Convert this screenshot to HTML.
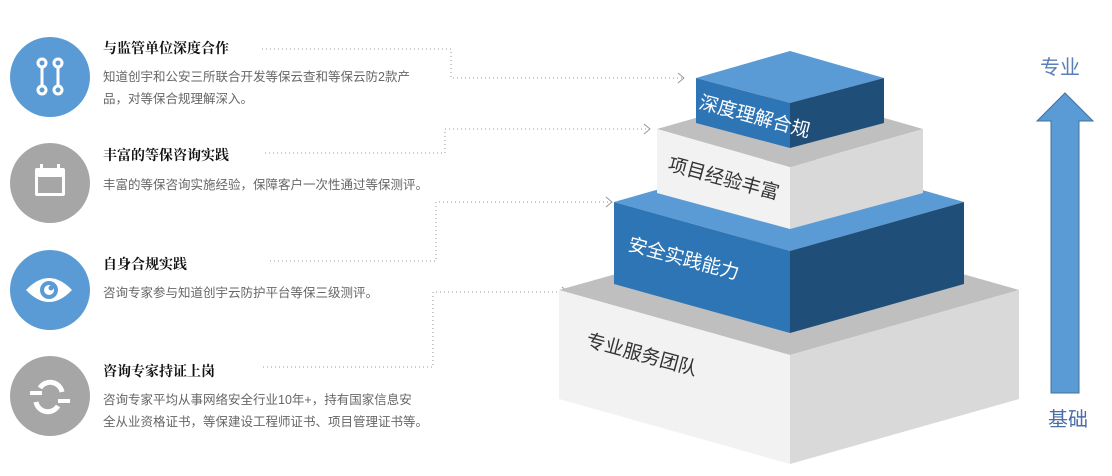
<!DOCTYPE html>
<html><head><meta charset="utf-8"><style>
body{margin:0;width:1112px;height:476px;background:#fff;overflow:hidden;position:relative;font-family:"Liberation Sans","Noto Sans CJK SC",sans-serif}
.c{position:absolute;left:10px;width:80px;height:80px;border-radius:50%}
.t{position:absolute;left:103px;font-size:14px;font-weight:bold;color:#111;font-family:"Liberation Serif","Noto Serif CJK SC",serif}
.d{position:absolute;left:103px;font-size:12.5px;color:#666;line-height:22px;white-space:nowrap}
</style></head><body>
<div class="c" style="top:37px;background:#5b9bd5"></div>
<div class="c" style="top:143px;background:#a6a6a6"></div>
<div class="c" style="top:250px;background:#5b9bd5"></div>
<div class="c" style="top:356px;background:#a6a6a6"></div>
<svg width="1112" height="476" style="position:absolute;left:0;top:0">
<g stroke="#fff" stroke-width="3" fill="none">
<circle cx="42" cy="63" r="4"/><circle cx="42" cy="90" r="4"/><line x1="42" y1="67" x2="42" y2="86"/>
<circle cx="58" cy="63" r="4"/><circle cx="58" cy="90" r="4"/><line x1="58" y1="67" x2="58" y2="86"/>
</g>
<rect x="35" y="168" width="30" height="28" fill="#fff" rx="2"/><rect x="38" y="177" width="24" height="16" fill="#a6a6a6"/>
<rect x="40" y="164" width="3" height="7" fill="#fff"/><rect x="57" y="164" width="3" height="7" fill="#fff"/>
<path d="M26 290 Q49 266 72 290 Q49 314 26 290Z" fill="#fff"/><circle cx="49" cy="290" r="9" fill="#5b9bd5"/><circle cx="49" cy="290" r="5" fill="#fff"/><circle cx="51" cy="288" r="2.5" fill="#5b9bd5"/>
<path d="M40 388 A12 12 0 0 1 62 392" stroke="#fff" stroke-width="5" fill="none"/>
<path d="M58 406 A12 12 0 0 1 36 402" stroke="#fff" stroke-width="5" fill="none"/>
<rect x="30" y="391" width="12" height="4" fill="#fff"/><rect x="58" y="399" width="12" height="4" fill="#fff"/>
<g stroke="#999" stroke-width="1" stroke-dasharray="1 3" fill="none">
<polyline points="262,49 451,49 451,78 684,78"/>
<polyline points="265,153 445,153 445,129 648,129"/>
<polyline points="270,261 436,261 436,202 610,202"/>
<polyline points="263,367 433,367 433,292 566,292"/>
</g>
<g stroke="#999" stroke-width="1" fill="none">
<polyline points="678,73 684,78 678,83"/><polyline points="644,124 650,129 644,134"/>
<polyline points="606,197 612,202 606,207"/><polyline points="562,287 568,292 562,297"/>
</g>
<polygon points="559,290 790,225 1019,290 790,355" fill="#bfbfbf"/>
<polygon points="559,290 790,355 790,464 559,399" fill="#f2f2f2"/>
<polygon points="790,355 1019,290 1019,399 790,464" fill="#d9d9d9"/>
<polygon points="614,202 790,152 964,202 790,251" fill="#5b9bd5"/>
<polygon points="614,202 790,251 790,333 614,284" fill="#2e75b6"/>
<polygon points="790,251 964,202 964,284 790,333" fill="#1f4e79"/>
<polygon points="657,129 790,91 923,129 790,167" fill="#bfbfbf"/>
<polygon points="657,129 790,167 790,229 657,193" fill="#f2f2f2"/>
<polygon points="790,167 923,129 923,193 790,229" fill="#d9d9d9"/>
<polygon points="696,78 790,51 884,78 790,103" fill="#5b9bd5"/>
<polygon points="696,78 790,103 790,148 696,123" fill="#2e75b6"/>
<polygon points="790,103 884,78 884,123 790,148" fill="#1f4e79"/>
<g font-family="Liberation Sans,Noto Sans CJK SC,sans-serif" font-size="19">
<text transform="translate(698,108) rotate(15)" fill="#fff">深度理解合规</text>
<text transform="translate(667,170) rotate(15)" fill="#333">项目经验丰富</text>
<text transform="translate(627,250) rotate(15)" fill="#fff">安全实践能力</text>
<text transform="translate(585,346) rotate(15)" fill="#333">专业服务团队</text>
</g>
<polygon points="1065,93 1093,121 1079,121 1079,393 1051,393 1051,121 1037,121" fill="#5b9bd5" stroke="#41719c" stroke-width="1"/>
<text x="1040" y="74" font-size="20" fill="#5a7fb8" font-family="Liberation Sans,Noto Sans CJK SC,sans-serif">专业</text>
<text x="1048" y="426" font-size="20" fill="#4a6fa8" font-family="Liberation Sans,Noto Sans CJK SC,sans-serif">基础</text>
</svg>
<div class="t" style="top:38px">与监管单位深度合作</div>
<div class="d" style="top:66px">知道创宇和公安三所联合开发等保云查和等保云防2款产<br>品，对等保合规理解深入。</div>
<div class="t" style="top:145px">丰富的等保咨询实践</div>
<div class="d" style="top:174px">丰富的等保咨询实施经验，保障客户一次性通过等保测评。</div>
<div class="t" style="top:254px">自身合规实践</div>
<div class="d" style="top:282px">咨询专家参与知道创宇云防护平台等保三级测评。</div>
<div class="t" style="top:361px">咨询专家持证上岗</div>
<div class="d" style="top:389px">咨询专家平均从事网络安全行业10年+，持有国家信息安<br>全从业资格证书，等保建设工程师证书、项目管理证书等。</div>
</body></html>
